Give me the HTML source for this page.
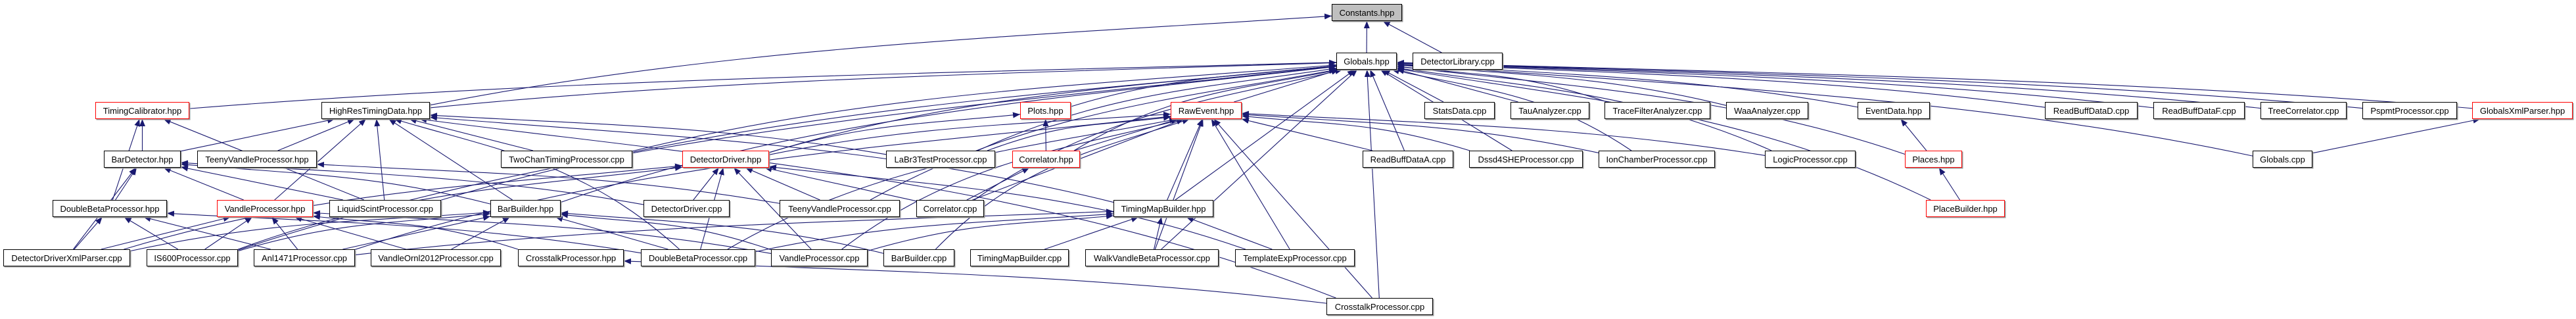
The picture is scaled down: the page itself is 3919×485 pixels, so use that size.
<!DOCTYPE html>
<html><head><meta charset="utf-8">
<style>
html,body{margin:0;padding:0;background:#fff;width:3919px;height:485px;overflow:hidden}
svg{display:block}
text{font-family:"Liberation Sans",Arial,sans-serif;font-size:13px;fill:#000}
</style></head>
<body>
<svg id="g" xmlns="http://www.w3.org/2000/svg" width="3919" height="485" viewBox="0 0 3919 485">
<defs>
<marker id="a" markerUnits="userSpaceOnUse" markerWidth="12" markerHeight="10" refX="11" refY="4.5" orient="auto">
<path d="M0,0 L11,4.5 L0,9 Z" fill="#191970"/>
</marker>
</defs>
<g id="edges" fill="none" stroke="#191970" stroke-width="1.1"></g>
<g id="nodes"></g>
</svg>
<script>
var R={r1:6,r2:80,r3:155,r4:229,r5:304,r6:379,r7:453};
var N={
Constants:[2026,2133,'r1','Constants.hpp','g'],
Globals:[2033,2125,'r2','Globals.hpp'],
DetLib:[2149,2286,'r2','DetectorLibrary.cpp'],
TimCal:[145,288,'r3','TimingCalibrator.hpp','r'],
HighRes:[489,654,'r3','HighResTimingData.hpp'],
Plots:[1552,1629,'r3','Plots.hpp','r'],
RawEvent:[1781,1889,'r3','RawEvent.hpp','r'],
Stats:[2167,2274,'r3','StatsData.cpp'],
Tau:[2298,2418,'r3','TauAnalyzer.cpp'],
Trace:[2441,2602,'r3','TraceFilterAnalyzer.cpp'],
Waa:[2626,2751,'r3','WaaAnalyzer.cpp'],
EventData:[2826,2936,'r3','EventData.hpp'],
RBD:[3111,3252,'r3','ReadBuffDataD.cpp'],
RBF:[3276,3415,'r3','ReadBuffDataF.cpp'],
Tree:[3439,3570,'r3','TreeCorrelator.cpp'],
Pspmt:[3594,3738,'r3','PspmtProcessor.cpp'],
GXml:[3761,3914,'r3','GlobalsXmlParser.hpp','r'],
BarDet:[158,275,'r4','BarDetector.hpp'],
TeenyH:[300,482,'r4','TeenyVandleProcessor.hpp'],
TwoChan:[762,962,'r4','TwoChanTimingProcessor.cpp'],
DDh:[1038,1170,'r4','DetectorDriver.hpp','r'],
LaBr3:[1348,1514,'r4','LaBr3TestProcessor.cpp'],
CorrH:[1540,1643,'r4','Correlator.hpp','r'],
RBA:[2073,2211,'r4','ReadBuffDataA.cpp'],
Dssd:[2235,2408,'r4','Dssd4SHEProcessor.cpp'],
Ion:[2432,2609,'r4','IonChamberProcessor.cpp'],
Logic:[2685,2823,'r4','LogicProcessor.cpp'],
Places:[2898,2985,'r4','Places.hpp','r'],
GCpp:[3427,3518,'r4','Globals.cpp'],
DBh:[80,254,'r5','DoubleBetaProcessor.hpp'],
VPh:[330,476,'r5','VandleProcessor.hpp','r'],
Liq:[501,671,'r5','LiquidScintProcessor.cpp'],
BBh:[746,853,'r5','BarBuilder.hpp'],
DDc:[979,1110,'r5','DetectorDriver.cpp'],
TeenyC:[1186,1369,'r5','TeenyVandleProcessor.cpp'],
CorrC:[1394,1497,'r5','Correlator.cpp'],
TMBh:[1694,1846,'r5','TimingMapBuilder.hpp'],
PlaceB:[2930,3050,'r5','PlaceBuilder.hpp','r'],
DDX:[5,198,'r6','DetectorDriverXmlParser.cpp'],
IS600:[223,362,'r6','IS600Processor.cpp'],
Anl:[386,540,'r6','Anl1471Processor.cpp'],
VO:[564,762,'r6','VandleOrnl2012Processor.cpp'],
CTh:[788,949,'r6','CrosstalkProcessor.hpp'],
DBc:[975,1149,'r6','DoubleBetaProcessor.cpp'],
VPc:[1173,1320,'r6','VandleProcessor.cpp'],
BBc:[1344,1452,'r6','BarBuilder.cpp'],
TMBc:[1476,1626,'r6','TimingMapBuilder.cpp'],
Walk:[1651,1854,'r6','WalkVandleBetaProcessor.cpp'],
Tmpl:[1879,2061,'r6','TemplateExpProcessor.cpp'],
CTc:[2018,2180,'r7','CrosstalkProcessor.cpp']
};
var E=[
['Globals','Constants'],['DetLib','Constants'],['HighRes','Constants'],['HighRes','Globals'],['TimCal','Globals'],
['BarDet','TimCal'],['BarDet','HighRes'],['DBh','TimCal'],['TeenyH','HighRes'],['VPh','HighRes'],['Liq','HighRes'],
['BBh','HighRes'],['TwoChan','HighRes'],['TwoChan','Globals'],['DBc','HighRes'],['CTc','HighRes'],['LaBr3','HighRes'],
['TMBh','HighRes'],['Liq','TimCal'],['DBh','BarDet'],['VPh','BarDet'],['Liq','BarDet'],['BBh','BarDet'],['DDc','BarDet'],
['TeenyC','TeenyH'],['DDX','DBh'],['DDX','VPh'],['DDX','BarDet'],['DDX','BBh'],['IS600','DBh'],['IS600','VPh'],['IS600','DDh'],
['IS600','BBh'],['Anl','DBh'],['Anl','VPh'],['Anl','BBh'],['Anl','TMBh'],['Anl','RawEvent'],['VO','VPh'],['VO','BBh'],
['DBc','DBh'],['DBc','BBh'],['DBc','TMBh'],['DBc','RawEvent'],['DBc','DDh'],['VPc','VPh'],['VPc','BBh'],['VPc','DDh'],
['VPc','TMBh'],['VPc','RawEvent'],['BBc','BBh'],['BBc','RawEvent'],['TMBc','TMBh'],['Walk','TMBh'],['Walk','RawEvent'],
['Walk','Globals'],['Tmpl','TMBh'],['Tmpl','RawEvent'],['Tmpl','DDh'],['CTh','VPh'],['CTc','CTh'],['CTc','Globals'],
['CTc','RawEvent'],['DDh','Globals'],['DDh','RawEvent'],['DDh','Plots'],['DDc','DDh'],['TeenyC','Globals'],['TeenyC','DDh'],
['CorrC','CorrH'],['CorrC','DDh'],['CorrC','Globals'],['CorrC','RawEvent'],['CorrH','Plots'],['CorrH','RawEvent'],
['CorrH','Globals'],['LaBr3','RawEvent'],['LaBr3','Globals'],['TMBh','RawEvent'],['Plots','Globals'],['RawEvent','Globals'],
['RBA','Globals'],['RBA','RawEvent'],['Dssd','Globals'],['Dssd','RawEvent'],['Ion','Globals'],['Ion','RawEvent'],
['Logic','Globals'],['Logic','RawEvent'],['Stats','Globals'],['Tau','Globals'],['Trace','Globals'],['Waa','Globals'],
['EventData','Globals'],['Places','EventData'],['Places','Globals'],['PlaceB','Places'],['PlaceB','Globals'],
['RBD','Globals'],['RBF','Globals'],['Tree','Globals'],['Pspmt','Globals'],['GXml','Globals'],['GCpp','Globals'],
['GCpp','GXml'],['DDX','DDh'],['Liq','Globals'],['IS600','Globals'],['BBh','Globals'],['TMBh','Globals']
];
var NS='http://www.w3.org/2000/svg',H=26;
function box(k){var n=N[k];var y=R[n[2]];return{x1:n[0],x2:n[1],y1:y,y2:y+H,cx:(n[0]+n[1])/2,cy:y+H/2};}
function hit(b,dx,dy){var hw=(b.x2-b.x1)/2,hh=H/2;var t=Math.min(dx?Math.abs(hw/dx):1e9,dy?Math.abs(hh/dy):1e9);return[b.cx+dx*t,b.cy+dy*t];}
var eg=document.getElementById('edges');
E.forEach(function(e){var s=box(e[0]),t=box(e[1]);var dx=t.cx-s.cx,dy=t.cy-s.cy;
var p=hit(s,dx,dy),q=hit(t,-dx,-dy);
var mx=(p[0]+q[0])/2,my=(p[1]+q[1])/2;var c1x=p[0],c1y=my,c2x=q[0],c2y=my;
var d;
if(Math.abs(dx)>400){d='M'+p[0]+','+p[1]+' C'+(p[0]+dx*0.3)+','+(p[1]+dy*0.6)+' '+(q[0]-dx*0.3)+','+(q[1]-dy*0.2)+' '+q[0]+','+q[1];}
else d='M'+p[0]+','+p[1]+' L'+q[0]+','+q[1];
var pa=document.createElementNS(NS,'path');pa.setAttribute('d',d);pa.setAttribute('marker-end','url(#a)');eg.appendChild(pa);});
var ng=document.getElementById('nodes');
Object.keys(N).forEach(function(k){var n=N[k],b=box(k);
var sh=document.createElementNS(NS,'rect');sh.setAttribute('x',b.x1+1.5);sh.setAttribute('y',b.y1+1.5);sh.setAttribute('width',b.x2-b.x1);sh.setAttribute('height',H);sh.setAttribute('fill','#999');ng.appendChild(sh);
var r=document.createElementNS(NS,'rect');r.setAttribute('x',b.x1+0.5);r.setAttribute('y',b.y1+0.5);r.setAttribute('width',b.x2-b.x1-1);r.setAttribute('height',H-1);
r.setAttribute('fill',n[4]=='g'?'#bfbfbf':'#fff');r.setAttribute('stroke',n[4]=='r'?'#ff0000':'#000');r.setAttribute('stroke-width','1');ng.appendChild(r);
var t=document.createElementNS(NS,'text');t.setAttribute('x',b.cx);t.setAttribute('y',b.y1+18);t.setAttribute('text-anchor','middle');t.textContent=n[3];ng.appendChild(t);});
</script>
</body></html>
